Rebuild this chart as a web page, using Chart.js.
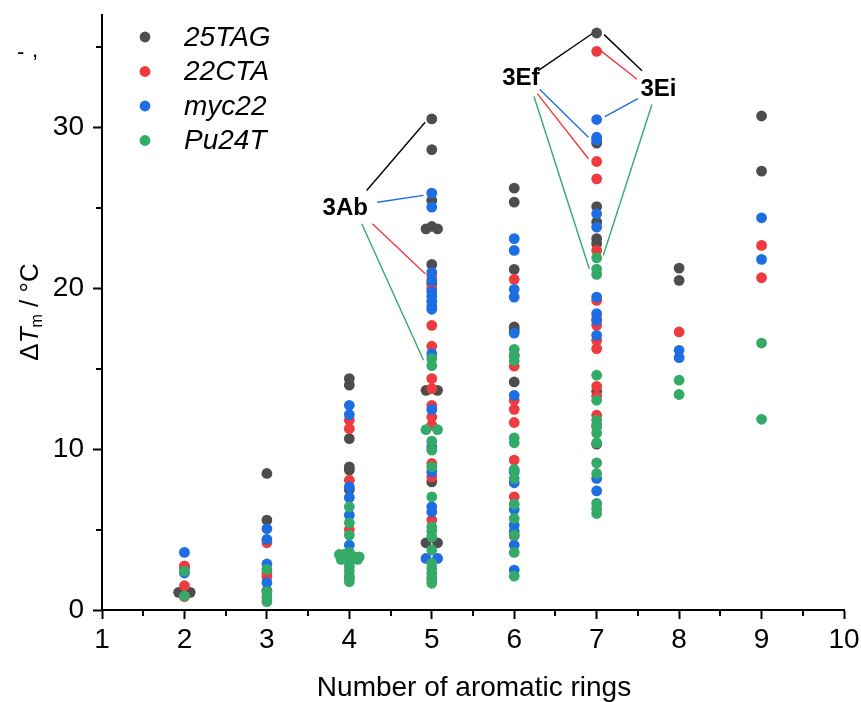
<!DOCTYPE html>
<html><head><meta charset="utf-8">
<script src="https://cdn.jsdelivr.net/npm/chart.js@4/dist/chart.umd.min.js"></script>
<style>html,body{margin:0;padding:0;background:#fff}#wrap{width:861px;height:702px}</style>
</head><body><div id="wrap"><canvas id="c" width="861" height="702"></canvas></div>
<script>
// ---------- data ----------
const seriesNames = ['25TAG', '22CTA', 'myc22', 'Pu24T'];
const xTicks = [1, 2, 3, 4, 5, 6, 7, 8, 9, 10];
const yTicks = [0, 10, 20, 30];
const xMinor = [1.5, 2.5, 3.5, 4.5, 5.5, 6.5, 7.5, 8.5, 9.5];
const yMinor = [5, 15, 25, 35];

// 25TAG
const tagX = [2, 1.93, 2.07,
  3, 3, 3,
  4, 4, 4, 4, 4, 4,
  5, 5, 5, 4.93, 5, 5.07, 5, 5, 4.93, 5.07, 5, 4.93, 5.07,
  6, 6, 6, 6, 6, 6,
  7, 7, 7, 7, 7, 7, 7, 7,
  8, 8,
  9, 9];
const tagY = [2.65, 1.1, 1.1,
  8.49, 5.59, 1.2,
  14.39, 13.98, 10.66, 8.9, 8.7, 7.5,
  30.54, 28.63, 25.47, 23.7, 23.85, 23.7, 21.49, 20.3, 13.66, 13.66, 7.97, 4.18, 4.18,
  26.23, 25.36, 21.18, 17.6, 17.4, 14.18,
  35.88, 29.03, 25.09, 24.12, 23.09, 22.78, 13.6, 10.31,
  21.26, 20.5,
  30.72, 27.29];

// 22CTA
const ctaX = [2, 2, 2,
  3, 3, 3,
  4, 4, 4, 4, 4,
  5, 5, 5, 5, 5, 5, 5, 5, 5, 5, 5, 5, 5,
  6, 6, 6, 6, 6, 6, 6, 6, 6,
  7, 7, 7, 7, 7, 7, 7, 7, 7, 7, 7, 7,
  8,
  9, 9];
const ctaY = [2.75, 1.51, 0.83,
  4.18, 2.3, 2.07,
  11.8, 11.28, 8.07, 5.0, 2.0,
  20.8, 20.0, 17.7, 16.4, 14.39, 13.77, 12.73, 12.0, 11.5, 9.11, 8.28, 5.59, 1.86,
  20.56, 15.84, 15.16, 13.04, 12.48, 11.66, 9.32, 7.04, 4.6,
  34.74, 27.89, 26.81, 22.36, 19.25, 18.1, 17.7, 16.77, 16.25, 13.91, 13.29, 12.11,
  17.29,
  22.67, 20.66];

// myc22
const mycX = [2, 2,
  3, 3, 3, 3,
  4, 4, 4, 4, 4, 4,
  5, 5, 5, 5, 5, 5, 5, 5, 5, 5, 5, 5, 5, 5, 5, 4.93, 5.07,
  6, 6, 6, 6, 6, 6, 6, 6, 6, 6, 6, 6, 6,
  7, 7, 7, 7, 7, 7, 7, 7, 7, 7, 7, 7,
  8, 8,
  9, 9];
const mycY = [3.58, 2.3,
  5.05, 4.39, 2.86, 1.7,
  12.73, 12.15, 7.66, 7.0, 5.9, 4.04,
  25.92, 25.05, 21.0, 20.5, 19.8, 19.5, 19.2, 18.9, 18.7, 15.94, 12.47, 10.14, 8.59, 6.42, 6.1, 3.21, 3.21,
  23.09, 22.36, 19.94, 19.46, 17.22, 13.35, 8.6, 7.91, 6.25, 5.28, 4.9, 4.04, 2.48,
  30.5, 29.4, 29.23, 24.64, 23.81, 19.46, 18.43, 18.0, 17.08, 11.5, 8.18, 7.41,
  16.15, 15.69,
  24.39, 21.8];

// Pu24T
const puX = [2, 2,
  3, 3, 3, 3,
  4, 4, 4, 4, 3.88, 3.94, 4.06, 4.12, 3.9, 4.1, 4, 4, 4, 4, 4,
  5, 5, 4.93, 5.07, 5, 5, 5, 5, 5, 5, 5, 5, 5, 5, 5, 5, 5,
  6, 6, 6, 6, 6, 6, 6, 6, 6, 6, 6, 6,
  7, 7, 7, 7, 7, 7, 7, 7, 7, 7, 7, 7, 7, 7,
  8, 8,
  9, 9];
const puY = [2.42, 0.87,
  2.53, 1.14, 0.83, 0.52,
  6.42, 5.42, 4.66, 3.6, 3.45, 3.45, 3.3, 3.3, 3.15, 3.15, 3.0, 2.7, 2.4, 2.1, 1.76,
  15.63, 15.2, 11.22, 11.22, 10.5, 9.94, 8.9, 7.04, 5.17, 4.9, 4.55, 3.73, 2.9, 2.6, 2.3, 2.0, 1.66,
  16.21, 15.8, 15.5, 10.7, 10.4, 8.74, 8.18, 6.58, 5.69, 4.66, 3.58, 2.11,
  21.9, 21.2, 20.87, 14.6, 13.04, 11.8, 11.4, 11.0, 10.39, 9.15, 8.49, 6.63, 6.3, 6.0,
  14.29, 13.4,
  16.6, 11.86];

// annotation labels (data coordinates) and leader lines [series index, x1, y1, x2, y2]
const annotLabels = ['3Ab', '3Ef', '3Ei'];
const annotLabelX = [3.95, 6.08, 7.75];
const annotLabelY = [24.97, 33.04, 32.36];
const annotLines = [
  [0, 4.21, 26.09, 4.92, 30.33],
  [2, 4.34, 25.36, 4.90, 25.78],
  [1, 4.28, 24.02, 4.92, 20.91],
  [3, 4.15, 24.02, 4.90, 15.53],
  [0, 6.29, 33.54, 6.94, 35.82],
  [2, 6.31, 32.36, 6.90, 29.40],
  [1, 6.28, 32.11, 6.90, 28.06],
  [3, 6.24, 31.93, 6.91, 21.22],
  [0, 7.09, 35.78, 7.55, 33.54],
  [1, 7.06, 34.74, 7.49, 33.00],
  [2, 7.10, 30.68, 7.50, 31.80],
  [3, 7.08, 22.05, 7.67, 31.43]
];

// ---------- styles ----------
const colors = ['#4d4d4d', '#ef3b3f', '#1c6ee2', '#34aa68'];
const lineColors = ['#000000', '#ef3b3f', '#1c6ee2', '#34aa68'];
const FONT = "'Liberation Sans', Arial, sans-serif";

function pts(xs, ys) { return xs.map((x, i) => ({x: x, y: ys[i]})); }
const allX = [tagX, ctaX, mycX, puX];
const allY = [tagY, ctaY, mycY, puY];

const datasets = seriesNames.map((n, i) => ({
  label: n,
  data: pts(allX[i], allY[i]),
  backgroundColor: colors[i],
  borderWidth: 0,
  pointRadius: 5.4,
  pointHoverRadius: 5.4,
  order: 4 - i
}));

const overlay = {
  id: 'overlay',
  afterDraw(chart) {
    const ctx = chart.ctx, xs = chart.scales.x, ys = chart.scales.y;
    ctx.save();
    // minor ticks
    ctx.strokeStyle = '#000'; ctx.lineWidth = 2;
    xMinor.forEach(v => {
      const p = Math.round(xs.getPixelForValue(v));
      ctx.beginPath(); ctx.moveTo(p, ys.bottom); ctx.lineTo(p, ys.bottom + 6); ctx.stroke();
    });
    yMinor.forEach(v => {
      const p = Math.round(ys.getPixelForValue(v));
      ctx.beginPath(); ctx.moveTo(xs.left, p); ctx.lineTo(xs.left - 6, p); ctx.stroke();
    });
    // leader lines
    ctx.lineWidth = 1.4;
    annotLines.forEach(l => {
      ctx.strokeStyle = lineColors[l[0]];
      ctx.beginPath();
      ctx.moveTo(xs.getPixelForValue(l[1]), ys.getPixelForValue(l[2]));
      ctx.lineTo(xs.getPixelForValue(l[3]), ys.getPixelForValue(l[4]));
      ctx.stroke();
    });
    // labels
    ctx.fillStyle = '#000';
    ctx.font = 'bold 24px ' + FONT;
    ctx.textAlign = 'center'; ctx.textBaseline = 'middle';
    annotLabels.forEach((t, i) => {
      ctx.fillText(t, xs.getPixelForValue(annotLabelX[i]), ys.getPixelForValue(annotLabelY[i]));
    });
    // legend
    const lx = 145, ly0 = 37, dy = 34.5;
    seriesNames.forEach((n, i) => {
      const y = ly0 + i * dy;
      ctx.fillStyle = colors[i];
      ctx.beginPath(); ctx.arc(lx, y, 5.4, 0, Math.PI * 2); ctx.fill();
      ctx.fillStyle = '#000';
      ctx.font = 'italic 28px ' + FONT;
      ctx.textAlign = 'left'; ctx.textBaseline = 'middle';
      ctx.fillText(n, 184, y + 1);
    });
    // x title
    ctx.font = '28px ' + FONT;
    ctx.textAlign = 'center'; ctx.textBaseline = 'middle';
    ctx.fillText('Number of aromatic rings', 474, 688);
    // y title
    ctx.save();
    ctx.translate(31, 312);
    ctx.rotate(-Math.PI / 2);
    const parts = [
      {t: '\u0394', f: '26px ' + FONT, dy: 0},
      {t: 'T', f: 'italic 26px ' + FONT, dy: 0},
      {t: 'm', f: '16px ' + FONT, dy: 7},
      {t: ' / \u00B0C', f: '26px ' + FONT, dy: 0}
    ];
    let total = 0;
    parts.forEach(p => { ctx.font = p.f; p.w = ctx.measureText(p.t).width; total += p.w; });
    let x = -total / 2;
    ctx.textAlign = 'left'; ctx.textBaseline = 'middle';
    parts.forEach(p => { ctx.font = p.f; ctx.fillText(p.t, x, p.dy); x += p.w; });
    ctx.restore();
    // cropped fragment at top-left
    ctx.font = '22px ' + FONT;
    ctx.textAlign = 'left'; ctx.textBaseline = 'alphabetic';
    ctx.fillText('-', 17, 59);
    ctx.fillText(',', 32, 57);
    ctx.restore();
  }
};

new Chart(document.getElementById('c'), {
  type: 'scatter',
  data: {datasets: datasets},
  plugins: [overlay],
  options: {
    responsive: false,
    animation: false,
    devicePixelRatio: 1,
    layout: {padding: {top: 15, right: 17, left: 0, bottom: 0}},
    plugins: {legend: {display: false}, tooltip: {enabled: false}},
    scales: {
      x: {
        type: 'linear', min: 1, max: 10,
        afterBuildTicks: s => { s.ticks = xTicks.map(v => ({value: v})); },
        afterFit: s => { s.height = 92; s.paddingLeft = 0; s.paddingRight = 0; },
        ticks: {font: {family: FONT, size: 28}, color: '#000', padding: 4, maxRotation: 0, autoSkip: false},
        grid: {display: true, drawOnChartArea: false, drawTicks: true, tickLength: 9, tickWidth: 2, tickColor: '#000'},
        border: {display: true, color: '#000', width: 2}
      },
      y: {
        type: 'linear', min: 0, max: 37,
        afterBuildTicks: s => { s.ticks = yTicks.map(v => ({value: v})); },
        afterFit: s => { s.width = 102; s.paddingTop = 0; s.paddingBottom = 0; },
        ticks: {font: {family: FONT, size: 28}, color: '#000', padding: 9},
        grid: {display: true, drawOnChartArea: false, drawTicks: true, tickLength: 9, tickWidth: 2, tickColor: '#000'},
        border: {display: true, color: '#000', width: 2}
      }
    }
  }
});
</script>
</body></html>
